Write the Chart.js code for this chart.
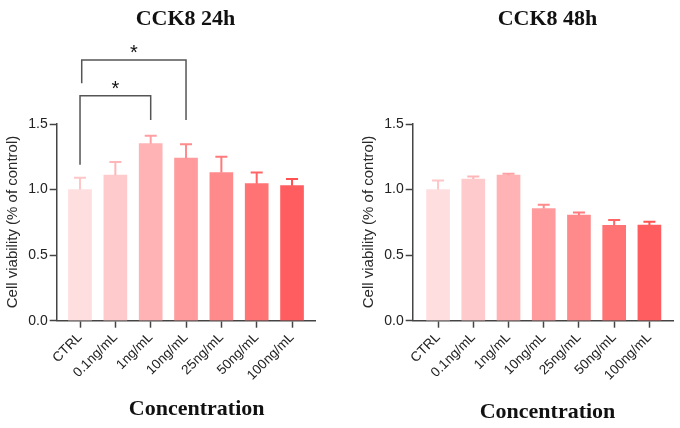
<!DOCTYPE html>
<html>
<head>
<meta charset="utf-8">
<script src="https://cdn.jsdelivr.net/npm/chart.js@4"></script>
<style>
  html, body { margin: 0; padding: 0; background: #fff; }
  .panel { position: absolute; top: 0; width: 340px; height: 428px; }
</style>
</head>
<body>
<div class="panel" style="left:0"><canvas id="chart24" width="340" height="428"></canvas></div>
<div class="panel" style="left:340px"><canvas id="chart48" width="340" height="428"></canvas></div>
<script>
// valores
const concentrations = ['CTRL', '0.1ng/mL', '1ng/mL', '10ng/mL', '25ng/mL', '50ng/mL', '100ng/mL'];
const viability24h = [1.00, 1.11, 1.35, 1.24, 1.13, 1.045, 1.03];
const sd24h = [0.09, 0.10, 0.06, 0.105, 0.12, 0.085, 0.05];
const viability48h = [1.00, 1.08, 1.11, 0.855, 0.805, 0.728, 0.73];
const sd48h = [0.07, 0.02, 0.01, 0.03, 0.02, 0.04, 0.025];
const yTicks = [0, 0.5, 1.0, 1.5];

const barColors = ['#ffdedf', '#ffcacc', '#ffb3b5', '#ff9b9d', '#ff8a8c', '#ff7375', '#ff5d5f'];
const errColors = ['#ffc6c8', '#ffb6b8', '#ff9fa1', '#ff8a8c', '#ff7a7c', '#ff6466', '#ff5052'];

const sansFont = "'Liberation Sans', Arial, sans-serif";
const serifFont = "'Liberation Serif', 'Times New Roman', serif";
const axisColor = '#444';

// desenha barras de erro, titulos e colchetes de significancia
const extrasPlugin = {
    id: 'extras',
    afterDatasetsDraw(chart, args, opts) {
        const ctx = chart.ctx;
        const xs = chart.scales.x, ys = chart.scales.y;
        const values = chart.data.datasets[0].data;
        ctx.save();
        ctx.lineWidth = 2;
        values.forEach((pt, i) => {
            const x = xs.getPixelForValue(pt.x);
            const yTop = ys.getPixelForValue(pt.y);
            const yErr = ys.getPixelForValue(pt.y + opts.errors[i]);
            ctx.strokeStyle = errColors[i];
            ctx.beginPath();
            ctx.moveTo(x, yTop);
            ctx.lineTo(x, yErr);
            ctx.moveTo(x - 6, yErr);
            ctx.lineTo(x + 6, yErr);
            ctx.stroke();
        });
        ctx.restore();
    },
    afterDraw(chart, args, opts) {
        const ctx = chart.ctx;
        const xs = chart.scales.x, ys = chart.scales.y;
        ctx.save();
        ctx.fillStyle = '#111';
        ctx.textAlign = 'center';
        ctx.textBaseline = 'alphabetic';
        ctx.font = 'bold 22px ' + serifFont;
        ctx.fillText(opts.title, opts.titleX, 25);
        ctx.fillText('Concentration', opts.xTitleX, opts.xTitleY);

        ctx.save();
        ctx.translate(opts.yTitleX, 222);
        ctx.rotate(-Math.PI / 2);
        ctx.textBaseline = 'middle';
        ctx.fillStyle = '#2a2a2a';
        ctx.font = '15px ' + sansFont;
        ctx.fillText('Cell viability (% of control)', 0, 0);
        ctx.restore();

        (opts.brackets || []).forEach(b => {
            const x1 = xs.getPixelForValue(b.from) + (b.dx || 0);
            const x2 = xs.getPixelForValue(b.to);
            const yTopPx = ys.getPixelForValue(b.level);
            ctx.strokeStyle = '#555';
            ctx.lineWidth = 1.5;
            ctx.beginPath();
            ctx.moveTo(x1, ys.getPixelForValue(b.leftEnd));
            ctx.lineTo(x1, yTopPx);
            ctx.lineTo(x2, yTopPx);
            ctx.lineTo(x2, ys.getPixelForValue(b.rightEnd));
            ctx.stroke();
            ctx.fillStyle = '#111';
            ctx.font = '20px ' + sansFont;
            ctx.fillText(b.label, (x1 + x2) / 2, yTopPx - 1);
        });
        ctx.restore();
    }
};

function makeChart(canvasId, values, errors, cfg) {
    const ctx = document.getElementById(canvasId).getContext('2d');
    return new Chart(ctx, {
        type: 'bar',
        data: {
            datasets: [{
                data: values.map((v, i) => ({ x: i, y: v })),
                backgroundColor: barColors,
                borderWidth: 0,
                barThickness: 23
            }]
        },
        options: {
            responsive: false,
            animation: false,
            layout: { padding: { left: 0, right: cfg.padRight, top: 124, bottom: 0 } },
            plugins: {
                legend: { display: false },
                tooltip: { enabled: false },
                extras: {
                    errors: errors,
                    title: cfg.title,
                    titleX: cfg.titleX,
                    xTitleX: cfg.xTitleX,
                    xTitleY: cfg.xTitleY,
                    yTitleX: cfg.yTitleX,
                    brackets: cfg.brackets
                }
            },
            scales: {
                x: {
                    type: 'linear',
                    offset: false,
                    min: cfg.xMin,
                    max: cfg.xMax,
                    afterBuildTicks: scale => {
                        scale.ticks = concentrations.map((c, i) => ({ value: i }));
                    },
                    afterFit: scale => { scale.height = 107.3; },
                    ticks: {
                        autoSkip: false,
                        minRotation: 45,
                        maxRotation: 45,
                        padding: 2,
                        color: '#222',
                        font: { family: sansFont, size: 13.5 },
                        callback: v => concentrations[v]
                    },
                    grid: {
                        offset: false,
                        drawOnChartArea: false,
                        drawTicks: true,
                        tickLength: 7,
                        tickWidth: 1.5,
                        tickColor: axisColor
                    },
                    border: { display: true, color: axisColor, width: 1.5 }
                },
                y: {
                    min: 0,
                    max: 1.5,
                    afterBuildTicks: scale => {
                        scale.ticks = yTicks.map(v => ({ value: v }));
                    },
                    afterFit: scale => { scale.width = cfg.yWidth; },
                    ticks: {
                        padding: 2,
                        color: '#222',
                        font: { family: sansFont, size: 14 },
                        callback: v => v.toFixed(1)
                    },
                    grid: {
                        drawOnChartArea: false,
                        drawTicks: true,
                        tickLength: 7,
                        tickWidth: 1.5,
                        tickColor: axisColor
                    },
                    border: { display: true, color: axisColor, width: 1.5 }
                }
            }
        },
        plugins: [extrasPlugin]
    });
}

makeChart('chart24', viability24h, sd24h, {
    title: 'CCK8 24h',
    titleX: 185.5,
    xTitleX: 196.7,
    xTitleY: 415,
    yTitleX: 13,
    padRight: 25,
    yWidth: 56.7,
    xMin: -0.66,
    xMax: 6.65,
    brackets: [
        { from: 0, to: 2, level: 1.715, leftEnd: 1.19, rightEnd: 1.53, label: '*' },
        { from: 0, to: 3, level: 1.988, leftEnd: 1.81, rightEnd: 1.53, label: '*', dx: 1.7 }
    ]
});

makeChart('chart48', viability48h, sd48h, {
    title: 'CCK8 48h',
    titleX: 207.5,
    xTitleX: 207.5,
    xTitleY: 418,
    yTitleX: 29,
    padRight: 7,
    yWidth: 72.7,
    xMin: -0.72,
    xMax: 6.67,
    brackets: []
});
</script>
</body>
</html>
